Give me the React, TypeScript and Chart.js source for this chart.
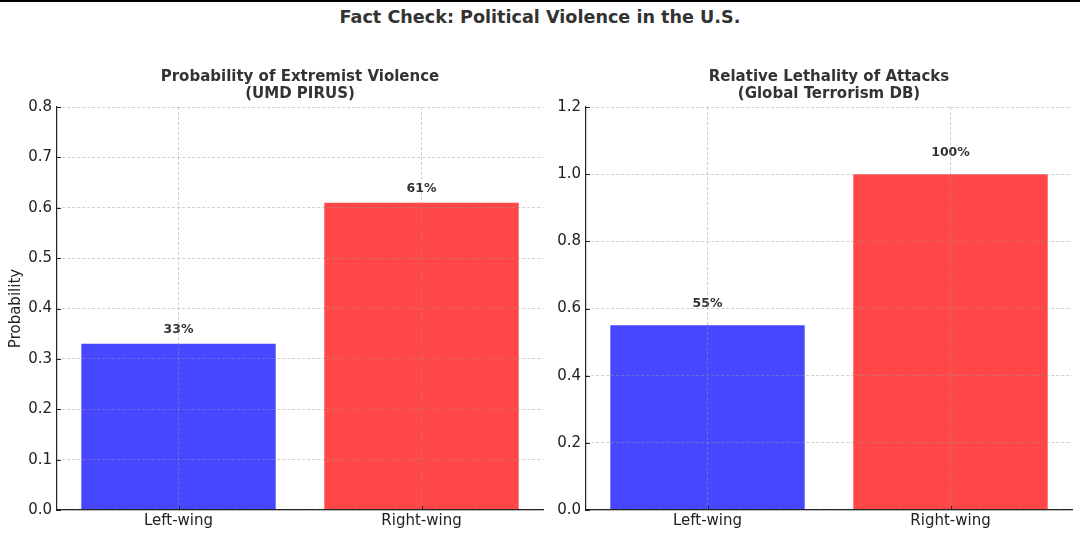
import React, { useEffect, useRef } from "react";
import { Chart, registerables } from "chart.js";

Chart.register(...registerables);

const categories = ["Left-wing", "Right-wing"];
const probabilityValues = [0.33, 0.61];
const lethalityValues = [0.55, 1.0];
const probabilityLabels = ["33%", "61%"];
const lethalityLabels = ["55%", "100%"];
const barColors = ["rgba(0,0,255,0.72)", "rgba(255,0,0,0.72)"];

const MAIN_TITLE = "Fact Check: Political Violence in the U.S.";
const leftTitle = ["Probability of Extremist Violence", "(UMD PIRUS)"];
const rightTitle = ["Relative Lethality of Attacks", "(Global Terrorism DB)"];

const FONT = "'DejaVu Sans', Verdana, sans-serif";

type Cfg = {
  values: number[];
  labels: string[];
  title: string[];
  yMax: number;
  yStep: number;
  yTitle: string;
  labelOffset: number;
  yWidth: number;
  padRight: number;
};

function makeChart(canvas: HTMLCanvasElement, cfg: Cfg) {
  const overlay = {
    id: "overlay",
    afterDatasetsDraw(chart: any) {
      const ctx = chart.ctx;
      const meta = chart.getDatasetMeta(0);
      const ys = chart.scales.y;
      ctx.save();
      ctx.fillStyle = "#333";
      ctx.font = `bold 12.5px ${FONT}`;
      ctx.textAlign = "center";
      ctx.textBaseline = "bottom";
      meta.data.forEach((bar: any, i: number) => {
        const y = ys.getPixelForValue(cfg.values[i] + cfg.labelOffset);
        ctx.fillText(cfg.labels[i], bar.x, y);
      });
      ctx.restore();
    },
    afterDraw(chart: any) {
      const ctx = chart.ctx;
      const area = chart.chartArea;
      const ys = chart.scales.y;
      const xs = chart.scales.x;
      ctx.save();
      ctx.strokeStyle = "#222";
      ctx.lineWidth = 1;
      ys.ticks.forEach((t: any) => {
        const y = Math.round(ys.getPixelForValue(t.value)) + 0.5;
        ctx.beginPath();
        ctx.moveTo(area.left, y);
        ctx.lineTo(area.left + 4, y);
        ctx.stroke();
      });
      xs.ticks.forEach((_t: any, i: number) => {
        const x = Math.round(xs.getPixelForTick(i)) + 0.5;
        ctx.beginPath();
        ctx.moveTo(x, area.bottom);
        ctx.lineTo(x, area.bottom - 4);
        ctx.stroke();
      });
      const cx = (area.left + area.right) / 2;
      ctx.fillStyle = "#333";
      ctx.font = `bold 15px ${FONT}`;
      ctx.textAlign = "center";
      ctx.textBaseline = "middle";
      ctx.fillText(cfg.title[0], cx, 77);
      ctx.fillText(cfg.title[1], cx, 94.5);
      ctx.restore();
    },
  };

  return new Chart(canvas, {
    type: "bar",
    data: {
      labels: categories,
      datasets: [
        {
          data: cfg.values,
          backgroundColor: barColors,
          borderWidth: 0,
          barPercentage: 0.8,
          categoryPercentage: 1,
        },
      ],
    },
    options: {
      animation: false,
      responsive: false,
      devicePixelRatio: 1,
      layout: { padding: { top: 107, right: cfg.padRight, bottom: 0, left: 0 } },
      plugins: {
        legend: { display: false },
        title: { display: false },
        tooltip: { enabled: false },
      },
      scales: {
        x: {
          afterFit(scale: any) {
            scale.height = 26;
          },
          grid: {
            offset: false,
            drawTicks: false,
            color: "rgba(150,150,150,0.45)",
            z: 1,
          },
          border: { display: true, color: "#222", width: 1.2, dash: [3, 2], z: 1 },
          ticks: {
            color: "#222",
            padding: 2,
            font: { family: FONT, size: 15 },
          },
        },
        y: {
          min: 0,
          max: cfg.yMax,
          afterFit(scale: any) {
            scale.width = cfg.yWidth;
          },
          grid: {
            drawTicks: false,
            color: "rgba(150,150,150,0.45)",
            z: 1,
          },
          border: { display: true, color: "#222", width: 1.2, dash: [3, 2], z: 1 },
          ticks: {
            stepSize: cfg.yStep,
            color: "#222",
            padding: 5,
            font: { family: FONT, size: 15 },
            callback: (v: any) => Number(v).toFixed(1),
          },
          title: {
            display: !!cfg.yTitle,
            text: cfg.yTitle,
            color: "#222",
            padding: { top: 7, bottom: 0 },
            font: { family: FONT, size: 15 },
          },
        },
      },
    },
    plugins: [overlay],
  } as any);
}

export default function App() {
  const leftRef = useRef<HTMLCanvasElement>(null);
  const rightRef = useRef<HTMLCanvasElement>(null);

  useEffect(() => {
    document.body.style.margin = "0";
    const a = makeChart(leftRef.current!, {
      values: probabilityValues,
      labels: probabilityLabels,
      title: leftTitle,
      yMax: 0.8,
      yStep: 0.1,
      yTitle: "Probability",
      labelOffset: 0.016,
      yWidth: 57,
      padRight: 7,
    });
    const b = makeChart(rightRef.current!, {
      values: lethalityValues,
      labels: lethalityLabels,
      title: rightTitle,
      yMax: 1.2,
      yStep: 0.2,
      yTitle: "",
      labelOffset: 0.045,
      yWidth: 36,
      padRight: 8,
    });
    return () => {
      a.destroy();
      b.destroy();
    };
  }, []);

  return (
    <div
      style={{
        position: "relative",
        width: 1080,
        height: 536,
        background: "#fff",
        overflow: "hidden",
        fontFamily: FONT,
      }}
    >
      <div style={{ position: "absolute", left: 0, top: 0, width: 1080, height: 2, background: "#000" }} />
      <div
        style={{
          position: "absolute",
          left: 0,
          top: 6,
          width: 1080,
          textAlign: "center",
          fontWeight: "bold",
          fontSize: 17.6,
          lineHeight: "22px",
          color: "#333",
        }}
      >
        {MAIN_TITLE}
      </div>
      <canvas ref={leftRef} width={550} height={536} style={{ position: "absolute", left: 0, top: 0 }} />
      <canvas ref={rightRef} width={530} height={536} style={{ position: "absolute", left: 550, top: 0 }} />
    </div>
  );
}
